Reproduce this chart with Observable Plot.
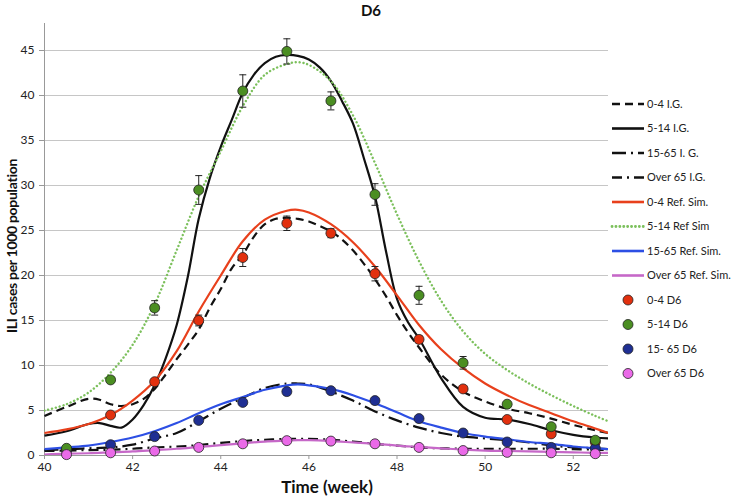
<!DOCTYPE html>
<html><head><meta charset="utf-8">
<script src="https://cdn.jsdelivr.net/npm/d3@7"></script>
<script src="https://cdn.jsdelivr.net/npm/@observablehq/plot@0.6"></script>
<style>
html,body{margin:0;padding:0;background:#fff;}
#wrap{position:relative;width:733px;height:497px;font-family:Lato,"Open Sans",sans-serif;color:#111;}
#wrap svg{position:absolute;left:0;top:0;}
.lbl{position:absolute;font-weight:bold;white-space:nowrap;line-height:1;}
</style></head><body>
<div id="wrap"></div>
<script>
// ---- data ----
const chartTitle = "D6";
const xLabel = "Time (week)";
const yLabel = "ILI cases per 1000 population";
const xTicks = [40, 42, 44, 46, 48, 50, 52];
const yTicks = [0, 5, 10, 15, 20, 25, 30, 35, 40, 45];

// observed weekly data (D6)
const obsWeeks = [40.5, 41.5, 42.5, 43.5, 44.5, 45.5, 46.5, 47.5, 48.5, 49.5, 50.5, 51.5, 52.5];
const obs0_4    = [0.6, 4.5, 8.2, 15.0, 22.0, 25.8, 24.7, 20.2, 12.9, 7.4, 4.0, 2.4, 1.5];
const obs5_14   = [0.8, 8.4, 16.4, 29.5, 40.5, 44.9, 39.4, 29.0, 17.8, 10.3, 5.7, 3.2, 1.7];
const obs15_65  = [0.6, 1.2, 2.1, 3.9, 5.9, 7.1, 7.2, 6.1, 4.1, 2.5, 1.5, 0.9, 0.8];
const obsOver65 = [0.1, 0.3, 0.5, 0.9, 1.3, 1.65, 1.6, 1.3, 0.9, 0.55, 0.35, 0.3, 0.2];
const err0_4    = [0, 0, 0, 0.6, 1.0, 0.8, 0.5, 0.8, 0.4, 0, 0, 0, 0];
const err5_14   = [0, 0, 0.8, 1.6, 1.8, 1.4, 1.0, 1.2, 1.0, 0.7, 0, 0, 0];

// I.G. model curves
const igWeeks = [40,40.5,41,41.25,41.5,41.75,42,42.25,42.5,42.75,43,43.25,43.5,43.75,44,44.25,44.5,44.75,45,45.25,45.5,45.75,46,46.25,46.5,46.75,47,47.25,47.5,47.75,48,48.25,48.5,49,49.5,50,50.5,51,51.5,52,52.5,52.8];
const ig0_4  = [4.4,5.4,6.3,6.2,5.7,5.5,5.7,6.3,7.4,9.0,10.7,12.3,14.0,16.4,18.5,20.8,22.3,24.3,25.7,26.3,26.4,26.3,26.0,25.5,24.9,24.0,22.8,21.3,19.6,17.7,15.6,13.7,12.0,9.0,7.1,6.0,5.2,4.7,4.1,3.4,2.8,2.5];
const ig5_14 = [2.2,2.7,3.5,3.6,3.3,3.1,4.0,5.6,7.8,10.8,14.5,19.8,26.3,30.8,34.3,37.3,40.3,42.3,43.6,44.3,44.5,44.4,44.0,43.1,41.6,39.4,36.9,33.0,28.8,22.7,17.4,14.8,13.0,8.6,5.4,4.2,4.0,3.5,2.8,2.3,2.0,1.9];

const simWeeks = [40,40.5,41,41.5,42,42.5,43,43.5,44,44.5,45,45.5,45.75,46,46.5,47,47.5,48,48.5,49,49.5,50,50.5,51,51.5,52,52.5,52.8];
const ig15_65  = [0.6,0.7,0.8,0.9,1.2,1.9,2.5,3.8,5.2,6.4,7.5,8.0,8.0,7.9,7.1,6.1,4.9,3.9,3.1,2.5,2.1,1.9,1.7,1.45,1.1,0.9,0.8,0.7];
const igOver65 = [0.5,0.55,0.6,0.65,0.75,0.9,1.0,1.15,1.4,1.6,1.75,1.85,1.85,1.85,1.75,1.55,1.3,1.1,0.9,0.8,0.75,0.75,0.75,0.75,0.75,0.7,0.65,0.6];

// Reference simulation curves
const ref0_4    = [2.5,2.9,3.5,4.5,6.1,8.3,11.6,16.0,20.0,23.8,26.2,27.2,27.3,27.0,25.7,23.7,21.0,17.8,14.5,11.8,9.7,8.0,6.7,5.6,4.7,3.8,3.0,2.5];
const ref5_14   = [5.0,5.7,7.0,9.2,12.3,16.8,22.8,28.8,33.8,38.8,42.3,43.5,43.7,43.4,41.6,37.8,32.5,26.8,21.6,17.2,13.8,11.3,9.5,8.0,6.7,5.5,4.4,3.8];
const ref15_65  = [0.7,0.9,1.1,1.5,2.0,2.7,3.6,4.7,5.7,6.5,7.3,7.8,7.9,7.8,7.4,6.7,5.8,4.8,3.8,3.1,2.5,2.1,1.8,1.5,1.3,1.0,0.8,0.7];
const refOver65 = [0.1,0.2,0.25,0.35,0.45,0.6,0.75,0.95,1.15,1.35,1.55,1.65,1.7,1.7,1.6,1.45,1.3,1.1,0.95,0.8,0.65,0.55,0.5,0.45,0.4,0.35,0.3,0.3];

// ---- styles ----
const C = {
  red: "#e8401c", redDot: "#e2300e",
  green: "#7cc05c", greenDot: "#4b8e22",
  blue: "#2d4fe4", blueDot: "#1f2f93",
  mag: "#c668c8", magDot: "#ea6ae8",
  ink: "#111"
};
const lineStyles = [
  {label: "0-4 I.G.", xs: igWeeks, ys: ig0_4, stroke: C.ink, dash: "8,5", w: 2.2},
  {label: "5-14 I.G.", xs: igWeeks, ys: ig5_14, stroke: C.ink, dash: null, w: 2.2},
  {label: "15-65 I. G.", xs: simWeeks, ys: ig15_65, stroke: C.ink, dash: "14,5,2,5", w: 2.2},
  {label: "Over 65 I.G.", xs: simWeeks, ys: igOver65, stroke: C.ink, dash: "10,5,2,5", w: 2.2},
  {label: "0-4 Ref. Sim.", xs: simWeeks, ys: ref0_4, stroke: C.red, dash: null, w: 2.2},
  {label: "5-14 Ref Sim", xs: simWeeks, ys: ref5_14, stroke: C.green, dash: "0.1,3.8", w: 2.4, cap: "round"},
  {label: "15-65 Ref. Sim.", xs: simWeeks, ys: ref15_65, stroke: C.blue, dash: null, w: 2.2},
  {label: "Over 65 Ref. Sim.", xs: simWeeks, ys: refOver65, stroke: C.mag, dash: null, w: 2.2}
];
const dotSeries = [
  {label: "0-4 D6", ys: obs0_4, fill: C.redDot},
  {label: "5-14 D6", ys: obs5_14, fill: C.greenDot},
  {label: "15- 65 D6", ys: obs15_65, fill: C.blueDot},
  {label: "Over 65 D6", ys: obsOver65, fill: C.magDot}
];
const drawOrder = [0, 2, 1, 3];

const capSymbol = {draw(ctx, size){ const w = Math.sqrt(size/Math.PI); ctx.moveTo(-w,0); ctx.lineTo(w,0); }};

function errMarks(ys, errs){
  const idx = d3.range(ys.length).filter(i => errs[i] > 0);
  return [
    Plot.ruleX(idx, {x: i => obsWeeks[i], y1: i => ys[i]-errs[i], y2: i => ys[i]+errs[i], stroke: "#222", strokeWidth: 1}),
    Plot.dot(idx, {x: i => obsWeeks[i], y: i => ys[i]-errs[i], symbol: capSymbol, r: 3.5, stroke: "#222", fill: "none", strokeWidth: 1}),
    Plot.dot(idx, {x: i => obsWeeks[i], y: i => ys[i]+errs[i], symbol: capSymbol, r: 3.5, stroke: "#222", fill: "none", strokeWidth: 1})
  ];
}

const marks = [
  Plot.gridY(yTicks.filter(d => d > 0), {stroke: "#c6c6c6", strokeOpacity: 1, strokeWidth: 1}),
  Plot.axisX(xTicks, {tickSize: 4, tickPadding: 3, stroke: "#999", fill: "#222", fontSize: 12, label: null}),
  Plot.axisY(yTicks, {tickSize: 5, tickPadding: 5, stroke: "#999", fill: "#222", fontSize: 12, label: null}),
  Plot.ruleX([40], {stroke: "#999"}),
  Plot.ruleY([0], {stroke: "#999"}),
  ...lineStyles.map(s => Plot.line(s.xs, {x: s.xs, y: s.ys, stroke: s.stroke, strokeWidth: s.w,
      strokeDasharray: s.dash || undefined, strokeLinecap: s.cap || "butt", curve: "catmull-rom", clip: true})),
  ...errMarks(obs0_4, err0_4),
  ...errMarks(obs5_14, err5_14),
  ...drawOrder.map(k => Plot.dot(obsWeeks, {x: obsWeeks, y: dotSeries[k].ys, r: 5, fill: dotSeries[k].fill, stroke: "#222", strokeWidth: 0.8}))
];

const chart = Plot.plot({
  width: 733, height: 497,
  marginLeft: 44, marginRight: 125, marginTop: 23, marginBottom: 42,
  style: {fontFamily: "Lato, 'Open Sans', sans-serif", fontSize: "12px", background: "transparent", overflow: "visible"},
  x: {domain: [40, 52.8], label: null},
  y: {domain: [0, 48], label: null},
  marks
});
const wrap = document.getElementById("wrap");
wrap.appendChild(chart);

// ---- legend ----
const leg = d3.select(wrap).append("svg").attr("width", 733).attr("height", 497)
  .style("pointer-events", "none").style("font-family", "Lato, 'Open Sans', sans-serif");
const legY0 = 104, legStep = 24.5, legX0 = 612, legX1 = 644, legText = 647;
lineStyles.forEach((s, i) => {
  const y = legY0 + i*legStep;
  leg.append("line").attr("x1", legX0).attr("x2", legX1).attr("y1", y).attr("y2", y)
    .attr("stroke", s.stroke).attr("stroke-width", s.w + 0.4)
    .attr("stroke-dasharray", s.dash).attr("stroke-linecap", s.cap || "butt");
  leg.append("text").attr("x", legText).attr("y", y).attr("dy", "0.35em")
    .attr("font-size", 11).attr("fill", "#222").text(s.label);
});
dotSeries.forEach((s, j) => {
  const y = legY0 + (lineStyles.length + j)*legStep;
  leg.append("circle").attr("cx", 628).attr("cy", y).attr("r", 5)
    .attr("fill", s.fill).attr("stroke", "#222").attr("stroke-width", 0.8);
  leg.append("text").attr("x", legText).attr("y", y).attr("dy", "0.35em")
    .attr("font-size", 11).attr("fill", "#222").text(s.label);
});

// ---- titles ----
function addLabel(text, css){
  const d = document.createElement("div");
  d.className = "lbl"; d.textContent = text;
  Object.assign(d.style, css);
  wrap.appendChild(d);
  return d;
}
addLabel(chartTitle, {left: "371px", top: "10px", fontSize: "15px", transform: "translate(-50%,-50%)"});
addLabel(xLabel, {left: "327px", top: "486px", fontSize: "17px", transform: "translate(-50%,-50%)"});
addLabel(yLabel, {left: "12px", top: "246px", fontSize: "14px", letterSpacing: "-0.3px", transform: "translate(-50%,-50%) rotate(-90deg)"});
</script>
</body></html>
